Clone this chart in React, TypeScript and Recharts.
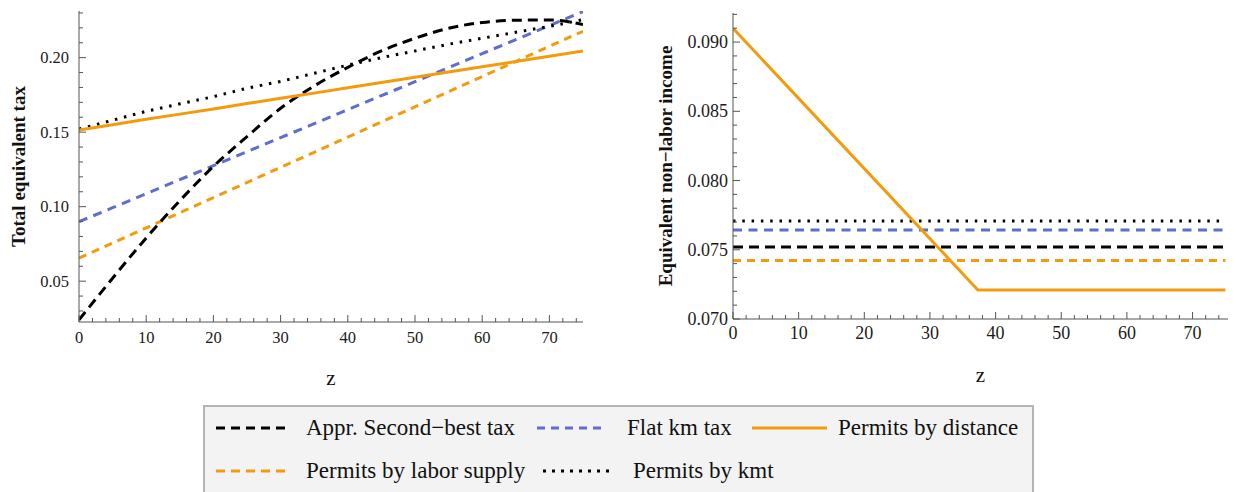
import { Line, LineChart, XAxis, YAxis } from "recharts";

const SERIF = '"Liberation Serif", "Times New Roman", serif';
const FRAME = "#555555";
const BLACK = "#000000";
const BLUE = "#5f6ecb";
const ORANGE = "#f29b0c";

// left panel: total equivalent tax against z
const Z_LEFT = [0, 5, 10, 15, 20, 25, 30, 35, 40, 45, 50, 55, 60, 65, 70, 75];
const APPR_TAX = [0.024, 0.052, 0.079, 0.104, 0.127, 0.147, 0.166, 0.181, 0.1935, 0.2045, 0.213, 0.2197, 0.2236, 0.2251, 0.2253, 0.2222];
const FLAT_TAX = [0.0899, 0.0993, 0.1087, 0.1181, 0.1275, 0.1369, 0.1463, 0.1557, 0.1651, 0.1745, 0.1839, 0.1933, 0.2027, 0.2121, 0.2215, 0.2309];
const DIST_TAX = [0.1515, 0.155, 0.1586, 0.1621, 0.1656, 0.1692, 0.1727, 0.1762, 0.1798, 0.1833, 0.1868, 0.1904, 0.1939, 0.1974, 0.201, 0.2045];
const LABOR_TAX = [0.0655, 0.0756, 0.0858, 0.0959, 0.1061, 0.1162, 0.1264, 0.1365, 0.1467, 0.1568, 0.167, 0.1771, 0.1873, 0.1974, 0.2076, 0.2177];
const KMT_TAX = [0.152, 0.158, 0.164, 0.169, 0.1738, 0.1795, 0.184, 0.1895, 0.195, 0.2, 0.2045, 0.209, 0.213, 0.217, 0.221, 0.2255];

// right panel: equivalent non-labor income against z
const Z_RIGHT = [0, 37.3, 75];
const APPR_INC = [0.0752, 0.0752, 0.0752];
const FLAT_INC = [0.07642, 0.07642, 0.07642];
const DIST_INC = [0.091, 0.0721, 0.0721];
const LABOR_INC = [0.07423, 0.07423, 0.07423];
const KMT_INC = [0.07707, 0.07707, 0.07707];

const X_MAJOR = [0, 10, 20, 30, 40, 50, 60, 70];
const LEFT_Y_MAJOR = [0.05, 0.1, 0.15, 0.2];
const RIGHT_Y_MAJOR = [0.07, 0.075, 0.08, 0.085, 0.09];

const SERIES = [
  { key: "labor", name: "Permits by labor supply", color: ORANGE, dash: "8 6" },
  { key: "flat", name: "Flat km tax", color: BLUE, dash: "9 6.5" },
  { key: "kmt", name: "Permits by kmt", color: BLACK, dash: "2.5 6.8" },
  { key: "appr", name: "Appr. Second−best tax", color: BLACK, dash: "10 6" },
  { key: "dist", name: "Permits by distance", color: ORANGE, dash: undefined },
];

const leftData = Z_LEFT.map((z, i) => ({
  z,
  appr: APPR_TAX[i],
  flat: FLAT_TAX[i],
  dist: DIST_TAX[i],
  labor: LABOR_TAX[i],
  kmt: KMT_TAX[i],
}));

const rightData = Z_RIGHT.map((z, i) => ({
  z,
  appr: APPR_INC[i],
  flat: FLAT_INC[i],
  dist: DIST_INC[i],
  labor: LABOR_INC[i],
  kmt: KMT_INC[i],
}));

function steps(from: number, to: number, step: number) {
  const out: number[] = [];
  for (let i = 0; from + i * step <= to + 1e-9; i++) out.push(+(from + i * step).toFixed(5));
  return out;
}

type Side = "left" | "right" | "top" | "bottom";

// Mathematica-style frame ticks: pointing inward, labels only on major ticks
function frameTick(
  side: Side,
  majors: number[],
  fmt?: (v: number) => string,
  opts: { gap: number; size: number } = { gap: 10, size: 16 }
) {
  return (p: any) => {
    const { x, y, payload } = p;
    const v = payload.value as number;
    const major = majors.some((m) => Math.abs(m - v) < 1e-7);
    const len = major ? 7 : 4;
    let x2 = x;
    let y2 = y;
    if (side === "left") x2 = x + len;
    else if (side === "right") x2 = x - len;
    else if (side === "top") y2 = y + len;
    else y2 = y - len;
    const txt = { fontFamily: SERIF, fontSize: opts.size, fill: "#1a1a1a" };
    return (
      <g>
        <line x1={x} y1={y} x2={x2} y2={y2} stroke={FRAME} strokeWidth={1} />
        {major && fmt && side === "left" && (
          <text x={x - opts.gap} y={y} textAnchor="end" dominantBaseline="central" style={txt}>
            {fmt(v)}
          </text>
        )}
        {major && fmt && side === "bottom" && (
          <text x={x} y={y + opts.gap} textAnchor="middle" dominantBaseline="central" style={txt}>
            {fmt(v)}
          </text>
        )}
      </g>
    );
  };
}

function yTitle(text: string, dx: number) {
  return (p: any) => {
    const vb = p.viewBox;
    const cx = vb.x + dx;
    const cy = vb.y + vb.height / 2;
    return (
      <text
        x={cx}
        y={cy}
        transform={`rotate(-90, ${cx}, ${cy})`}
        textAnchor="middle"
        dominantBaseline="central"
        style={{ fontFamily: SERIF, fontSize: 19, fontWeight: 700, fill: "#111" }}
      >
        {text}
      </text>
    );
  };
}

function xTitle(dy: number) {
  return (p: any) => {
    const vb = p.viewBox;
    return (
      <text
        x={vb.x + vb.width / 2}
        y={vb.y + dy}
        textAnchor="middle"
        dominantBaseline="central"
        style={{ fontFamily: SERIF, fontSize: 21, fill: "#111" }}
      >
        z
      </text>
    );
  };
}

interface PanelProps {
  data: any[];
  width: number;
  yAxisWidth: number;
  margin: { top: number; right: number; left: number; bottom: number };
  xAxisHeight: number;
  xDomain: [number, number];
  yDomain: [number, number];
  yTicks: number[];
  yMajor: number[];
  yFmt: (v: number) => string;
  yLabel: string;
  yLabelX: number;
  tickFont: number;
  yGap: number;
  xGap: number;
  curveType: "monotone" | "linear";
}

function Panel(props: PanelProps) {
  const xTicks = steps(0, 74, 2);
  const axisLine = { stroke: FRAME, strokeWidth: 1 };
  return (
    <LineChart width={props.width} height={400} data={props.data} margin={props.margin}>
      <XAxis
        dataKey="z"
        type="number"
        domain={props.xDomain}
        allowDataOverflow
        ticks={xTicks}
        interval={0}
        tickSize={0}
        tickMargin={0}
        height={props.xAxisHeight}
        axisLine={axisLine}
        tickLine={false}
        tick={frameTick("bottom", X_MAJOR, (v) => String(v), { gap: props.xGap, size: props.tickFont })}
        label={{ content: xTitle(56) }}
      />
      <XAxis
        xAxisId="top"
        orientation="top"
        type="number"
        domain={props.xDomain}
        allowDataOverflow
        ticks={xTicks}
        interval={0}
        tickSize={0}
        tickMargin={0}
        height={0}
        axisLine={axisLine}
        tickLine={false}
        tick={frameTick("top", X_MAJOR)}
      />
      <YAxis
        type="number"
        domain={props.yDomain}
        allowDataOverflow
        ticks={props.yTicks}
        interval={0}
        tickSize={0}
        tickMargin={0}
        width={props.yAxisWidth}
        axisLine={axisLine}
        tickLine={false}
        tick={frameTick("left", props.yMajor, props.yFmt, { gap: props.yGap, size: props.tickFont })}
        label={{ content: yTitle(props.yLabel, props.yLabelX) }}
      />
      <YAxis
        yAxisId="right"
        orientation="right"
        type="number"
        domain={props.yDomain}
        allowDataOverflow
        ticks={props.yTicks}
        interval={0}
        tickSize={0}
        tickMargin={0}
        width={0}
        axisLine={axisLine}
        tickLine={false}
        tick={frameTick("right", props.yMajor)}
      />
      {SERIES.map((s) => (
        <Line
          key={s.key}
          dataKey={s.key}
          name={s.name}
          type={s.key === "appr" ? props.curveType : "linear"}
          stroke={s.color}
          strokeWidth={3}
          strokeDasharray={s.dash}
          dot={false}
          activeDot={false}
          isAnimationActive={false}
        />
      ))}
    </LineChart>
  );
}

function LegendSample({ color, dash, width }: { color: string; dash?: string; width: number }) {
  return (
    <svg width={width} height={8} style={{ display: "block" }}>
      <line x1={0} y1={4} x2={width} y2={4} stroke={color} strokeWidth={3} strokeDasharray={dash} />
    </svg>
  );
}

// legend entries: series key, sample x/width, text x, row
const LEGEND_LAYOUT = [
  { key: "appr", sx: 216, sw: 72, tx: 306, row: 0, dash: "9 6" },
  { key: "flat", sx: 537, sw: 64, tx: 627, row: 0, dash: "8 6" },
  { key: "dist", sx: 752, sw: 75, tx: 838, row: 0, dash: undefined },
  { key: "labor", sx: 216, sw: 72, tx: 306, row: 1, dash: "9 6" },
  { key: "kmt", sx: 543, sw: 72, tx: 633, row: 1, dash: "3 6" },
];
const ROW_Y = [428, 471];

function Legend() {
  return (
    <>
      <div
        style={{
          position: "absolute",
          left: 203,
          top: 405,
          width: 831,
          height: 110,
          boxSizing: "border-box",
          background: "#f3f3f3",
          border: "2px solid #b4b4b4",
        }}
      />
      {LEGEND_LAYOUT.map((l) => {
        const s = SERIES.find((x) => x.key === l.key)!;
        const cy = ROW_Y[l.row];
        return (
          <div key={l.key}>
            <div style={{ position: "absolute", left: l.sx, top: cy - 4 }}>
              <LegendSample color={s.color} dash={l.dash} width={l.sw} />
            </div>
            <div
              style={{
                position: "absolute",
                left: l.tx,
                top: cy - 14,
                height: 28,
                lineHeight: "28px",
                fontFamily: SERIF,
                fontSize: 23,
                color: "#111",
                whiteSpace: "nowrap",
              }}
            >
              {s.name}
            </div>
          </div>
        );
      })}
    </>
  );
}

export default function App() {
  return (
    <div
      style={{
        position: "absolute",
        left: 0,
        top: 0,
        width: 1236,
        height: 492,
        overflow: "hidden",
        background: "#fff",
      }}
    >
      <div style={{ position: "absolute", left: 0, top: 0 }}>
        <Panel
          data={leftData}
          width={600}
          yAxisWidth={79}
          margin={{ top: 11, right: 17, left: 0, bottom: 0 }}
          xAxisHeight={78}
          xDomain={[0, 75]}
          yDomain={[0.0226, 0.2313]}
          yTicks={steps(0.03, 0.23, 0.01)}
          yMajor={LEFT_Y_MAJOR}
          yFmt={(v) => v.toFixed(2)}
          yLabel="Total equivalent tax"
          yLabelX={18}
          tickFont={16.5}
          yGap={10}
          xGap={15}
          curveType="monotone"
        />
      </div>
      <div style={{ position: "absolute", left: 640, top: 0 }}>
        <Panel
          data={rightData}
          width={596}
          yAxisWidth={93}
          margin={{ top: 13, right: 8, left: 0, bottom: 0 }}
          xAxisHeight={81}
          xDomain={[0, 75.4]}
          yDomain={[0.07, 0.0921]}
          yTicks={steps(0.07, 0.092, 0.001)}
          yMajor={RIGHT_Y_MAJOR}
          yFmt={(v) => v.toFixed(3)}
          yLabel="Equivalent non−labor income"
          yLabelX={25}
          tickFont={18}
          yGap={5}
          xGap={14}
          curveType="linear"
        />
      </div>
      <Legend />
    </div>
  );
}
